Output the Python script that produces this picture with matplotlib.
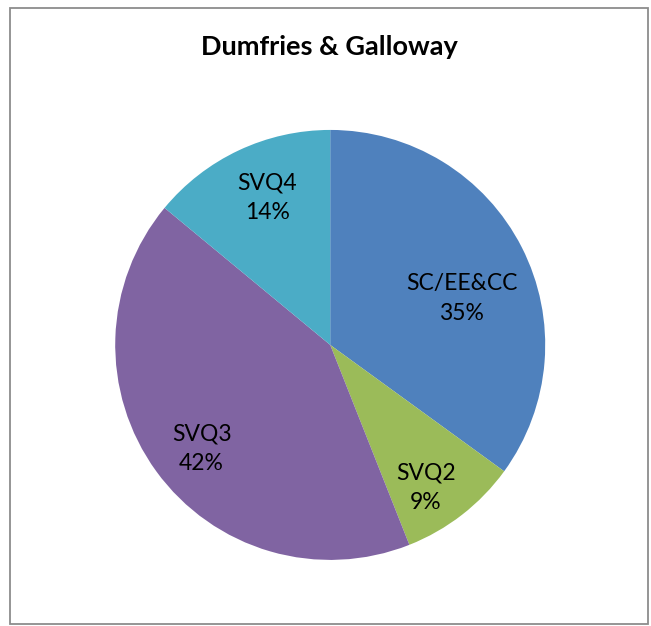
import matplotlib
matplotlib.use('Agg')
import matplotlib.pyplot as plt
import matplotlib.patches as patches
import numpy as np

# Data
categories = ['SC/EE&CC', 'SVQ2', 'SVQ3', 'SVQ4']
shares = [35, 9, 42, 14]
colors = ['#4F81BD', '#9BBB59', '#8064A2', '#4BACC6']
# label placement inside each slice (fraction of radius, angle nudge in degrees)
label_dist = [0.65, 0.80, 0.77, 0.745]
label_nudge = [-7.5, -4, 3, -2]

plt.rcParams['font.family'] = ['Lato', 'DejaVu Sans']

fig = plt.figure(figsize=(6.51, 6.26), dpi=100)

# chart border
fig.patches.append(patches.Rectangle((10 / 651, 1 - 624 / 626), 638 / 651, 616 / 626,
                                     transform=fig.transFigure, fill=False,
                                     edgecolor='#8c8c8c', linewidth=1.3))

fig.text(329 / 651, 1 - 47 / 626, 'Dumfries & Galloway', ha='center', va='center',
         fontsize=19.5, fontweight='bold')

ax = fig.add_axes([0.177, 0.1055, 0.6605, 0.687])
wedges, _ = ax.pie(shares, colors=colors, startangle=90, counterclock=False,
                   radius=1, wedgeprops=dict(linewidth=0))
ax.set_xlim(-1, 1)
ax.set_ylim(-1, 1)
ax.set_aspect('equal')
ax.axis('off')

# labels inside slices
for w, name, val, d, nudge in zip(wedges, categories, shares, label_dist, label_nudge):
    mid = np.deg2rad((w.theta1 + w.theta2) / 2 + nudge)
    ax.text(d * np.cos(mid), d * np.sin(mid), f'{name}\n{val}%', ha='center', va='center',
            fontsize=16.5, linespacing=1.5, color='black')

fig.savefig('out.png', dpi=100)
